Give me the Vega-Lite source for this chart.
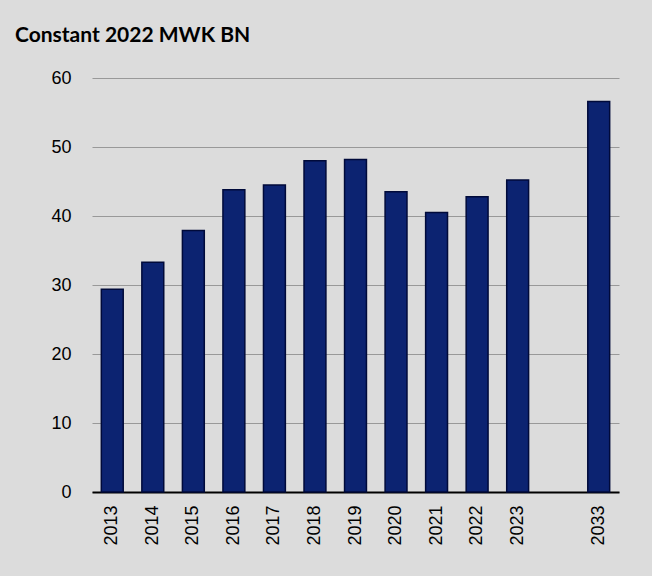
{
  "$schema": "https://vega.github.io/schema/vega-lite/v6.json",
  "width": 527,
  "height": 414,
  "autosize": "none",
  "padding": {"left": 92, "top": 78, "right": 33, "bottom": 84},
  "background": "#dcdcdc",
  "title": {
    "text": "Constant 2022 MWK BN",
    "anchor": "start",
    "frame": "group",
    "dx": -77,
    "offset": 23,
    "font": "Lato",
    "fontSize": 21,
    "fontWeight": "bold",
    "color": "#000000"
  },
  "data": {
    "values": [
      {"year": "2013", "value": 29.4},
      {"year": "2014", "value": 33.3},
      {"year": "2015", "value": 37.9},
      {"year": "2016", "value": 43.8},
      {"year": "2017", "value": 44.5},
      {"year": "2018", "value": 48.0},
      {"year": "2019", "value": 48.2},
      {"year": "2020", "value": 43.5},
      {"year": "2021", "value": 40.5},
      {"year": "2022", "value": 42.8},
      {"year": "2023", "value": 45.2},
      {"year": "2033", "value": 56.6}
    ]
  },
  "mark": {"type": "bar", "fill": "#0c2371", "stroke": "#000a3a", "strokeWidth": 1.5},
  "encoding": {
    "x": {
      "field": "year",
      "type": "nominal",
      "scale": {
        "domain": ["2013","2014","2015","2016","2017","2018","2019","2020","2021","2022","2023"," ","2033"],
        "paddingInner": 0.46,
        "paddingOuter": 0.23
      },
      "axis": {
        "title": null,
        "labelAngle": 270,
        "labelAlign": "right",
        "labelBaseline": "middle",
        "labelPadding": 13,
        "labelFont": "Liberation Sans",
        "labelFontSize": 18,
        "labelColor": "#000000",
        "domainColor": "#000000",
        "domainWidth": 2,
        "ticks": false,
        "grid": false
      }
    },
    "y": {
      "field": "value",
      "type": "quantitative",
      "scale": {"domain": [0, 60], "nice": false},
      "axis": {
        "title": null,
        "values": [0, 10, 20, 30, 40, 50, 60],
        "domain": false,
        "ticks": false,
        "labelPadding": 21,
        "labelFont": "Liberation Sans",
        "labelFontSize": 18,
        "labelColor": "#000000",
        "gridColor": "#999999",
        "gridWidth": 1
      }
    }
  },
  "config": {"view": {"stroke": null}}
}
